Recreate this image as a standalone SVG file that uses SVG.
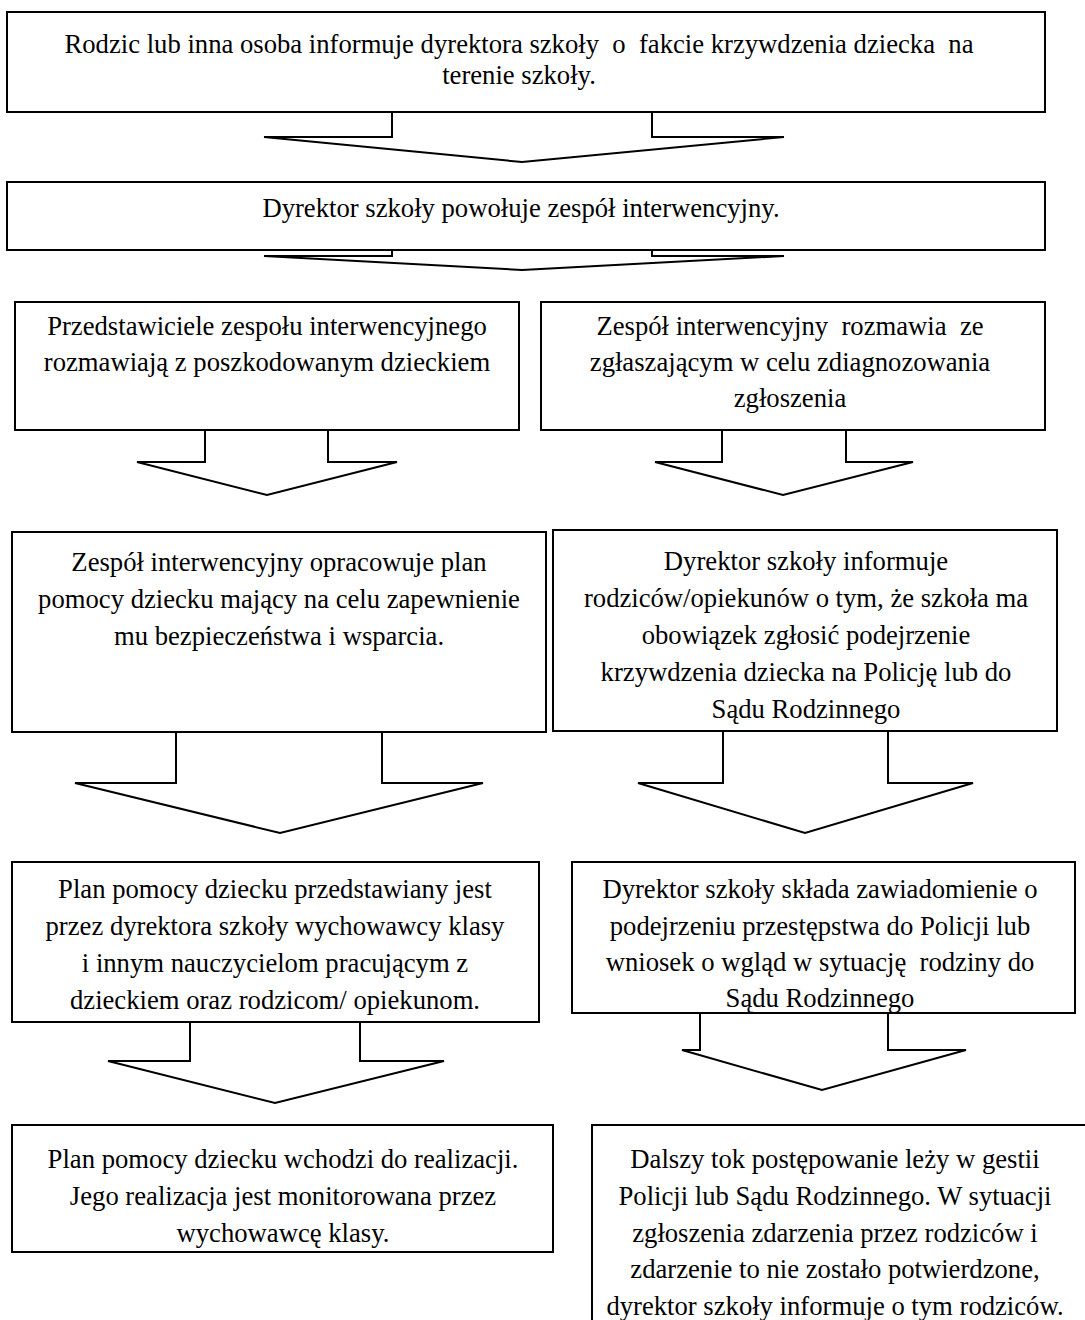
<svg xmlns="http://www.w3.org/2000/svg" width="1085" height="1320" viewBox="0 0 1085 1320">
<style>
.box{fill:#fff;stroke:#000;stroke-width:2}
.arr{fill:#fff;stroke:#000;stroke-width:2;stroke-linejoin:miter}
.t{font-family:"Liberation Serif","Times New Roman",serif;font-size:26.67px;fill:#000;text-anchor:middle;white-space:pre}
</style>
<rect width="1085" height="1320" fill="#fff"/>
<g id="connectors">
<polyline class="arr" points="392,112 392,137 264,137 522,162 784,137 652,137 652,112"/>
<polyline class="arr" points="392,250 392,256 264,256 522,270 784,256 652,256 652,250"/>
<polyline class="arr" points="205,430 205,462 137,462 267,495 397,462 328,462 328,430"/>
<polyline class="arr" points="722,430 722,462 655,462 783,495 913,462 846,462 846,430"/>
<polyline class="arr" points="176,732 176,783 75,783 280,833 483,783 382,783 382,732"/>
<polyline class="arr" points="723,731 723,783 638,783 805,833 973,783 888,783 888,731"/>
<polyline class="arr" points="190,1022 190,1061 108,1061 275,1103 444,1061 360,1061 360,1022"/>
<polyline class="arr" points="700,1013 700,1050 682,1050 822,1090 966,1050 888,1050 888,1013"/>
</g>
<g id="n1">
<rect class="box" x="7" y="12" width="1038" height="100"/>
<text class="t" x="519" y="53">Rodzic lub inna osoba informuje dyrektora szkoły  o  fakcie krzywdzenia dziecka  na</text>
<text class="t" x="519" y="84">terenie szkoły.</text>
</g>
<g id="n2">
<rect class="box" x="7" y="182" width="1038" height="68"/>
<text class="t" x="521" y="217">Dyrektor szkoły powołuje zespół interwencyjny.</text>
</g>
<g id="n3">
<rect class="box" x="15" y="302" width="504" height="128"/>
<text class="t" x="267" y="335">Przedstawiciele zespołu interwencyjnego</text>
<text class="t" x="267" y="371">rozmawiają z poszkodowanym dzieckiem</text>
</g>
<g id="n4">
<rect class="box" x="541" y="302" width="504" height="128"/>
<text class="t" x="790" y="335">Zespół interwencyjny  rozmawia  ze</text>
<text class="t" x="790" y="371">zgłaszającym w celu zdiagnozowania</text>
<text class="t" x="790" y="407">zgłoszenia</text>
</g>
<g id="n5">
<rect class="box" x="12" y="532" width="534" height="200"/>
<text class="t" x="279" y="571">Zespół interwencyjny opracowuje plan</text>
<text class="t" x="279" y="608">pomocy dziecku mający na celu zapewnienie</text>
<text class="t" x="279" y="645">mu bezpieczeństwa i wsparcia.</text>
</g>
<g id="n6">
<rect class="box" x="553" y="530" width="504" height="201"/>
<text class="t" x="806" y="570">Dyrektor szkoły informuje</text>
<text class="t" x="806" y="607">rodziców/opiekunów o tym, że szkoła ma</text>
<text class="t" x="806" y="644">obowiązek zgłosić podejrzenie</text>
<text class="t" x="806" y="681">krzywdzenia dziecka na Policję lub do</text>
<text class="t" x="806" y="718">Sądu Rodzinnego</text>
</g>
<g id="n7">
<rect class="box" x="12" y="862" width="527" height="160"/>
<text class="t" x="275" y="898">Plan pomocy dziecku przedstawiany jest</text>
<text class="t" x="275" y="935">przez dyrektora szkoły wychowawcy klasy</text>
<text class="t" x="275" y="972">i innym nauczycielom pracującym z</text>
<text class="t" x="275" y="1009">dzieckiem oraz rodzicom/ opiekunom.</text>
</g>
<g id="n8">
<rect class="box" x="572" y="862" width="503" height="151"/>
<text class="t" x="820" y="898">Dyrektor szkoły składa zawiadomienie o</text>
<text class="t" x="820" y="935">podejrzeniu przestępstwa do Policji lub</text>
<text class="t" x="820" y="971">wniosek o wgląd w sytuację  rodziny do</text>
<text class="t" x="820" y="1007">Sądu Rodzinnego</text>
</g>
<g id="n9">
<rect class="box" x="12" y="1125" width="541" height="127"/>
<text class="t" x="283" y="1168">Plan pomocy dziecku wchodzi do realizacji.</text>
<text class="t" x="283" y="1205">Jego realizacja jest monitorowana przez</text>
<text class="t" x="283" y="1242">wychowawcę klasy.</text>
</g>
<g id="n10">
<rect class="box" x="592" y="1125" width="505" height="210"/>
<text class="t" x="835" y="1168">Dalszy tok postępowanie leży w gestii</text>
<text class="t" x="835" y="1205">Policji lub Sądu Rodzinnego. W sytuacji</text>
<text class="t" x="835" y="1242">zgłoszenia zdarzenia przez rodziców i</text>
<text class="t" x="835" y="1278">zdarzenie to nie zostało potwierdzone,</text>
<text class="t" x="835" y="1315">dyrektor szkoły informuje o tym rodziców.</text>
</g>
</svg>
